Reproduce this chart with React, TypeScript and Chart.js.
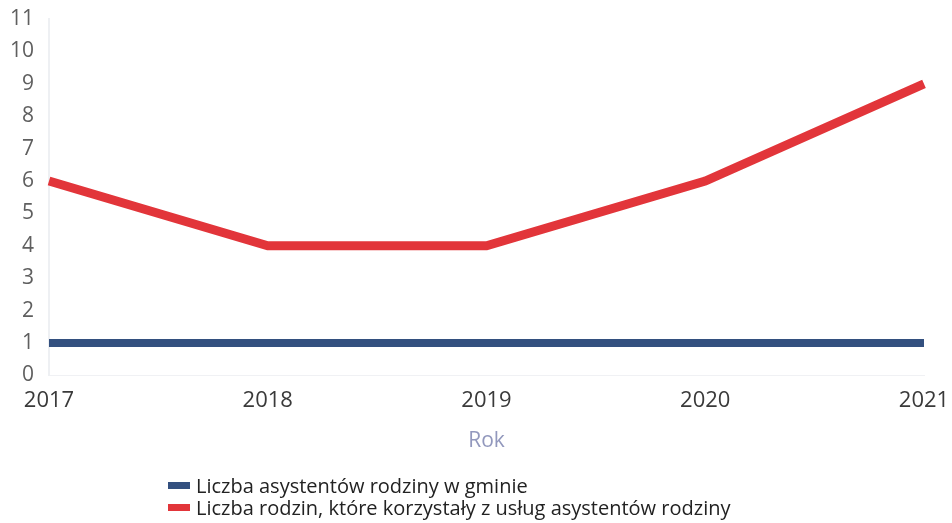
import React, { useEffect, useRef } from "react";
import { Chart, registerables } from "chart.js";

Chart.register(...registerables);

const years = ["2017", "2018", "2019", "2020", "2021"];
const assistants = [1, 1, 1, 1, 1];
const families = [6, 4, 4, 6, 9];
const yTicks = [0, 1, 2, 3, 4, 5, 6, 7, 8, 9, 10, 11];

const seriesNames = [
  "Liczba asystentów rodziny w gminie",
  "Liczba rodzin, które korzystały z usług asystentów rodziny",
];
const BLUE = "#33507f";
const RED = "#e2353a";
const FONT = "'Open Sans', 'Noto Sans', sans-serif";

const legendPlugin = {
  id: "stackedLegend",
  afterDraw(chart: any) {
    const ctx = chart.ctx;
    const items = chart.data.datasets;
    ctx.save();
    ctx.font = `20px ${FONT}`;
    ctx.textBaseline = "alphabetic";
    items.forEach((ds: any, i: number) => {
      const baseline = 493 + i * 22;
      ctx.fillStyle = ds.borderColor;
      ctx.fillRect(168, baseline - 11, 22, 7);
      ctx.fillStyle = "#222";
      ctx.fillText(ds.label, 196, baseline);
    });
    ctx.restore();
  },
};

export default function App() {
  const ref = useRef<HTMLCanvasElement | null>(null);
  useEffect(() => {
    if (!ref.current) return;
    const chart = new Chart(ref.current, {
      type: "line",
      data: {
        labels: years,
        datasets: [
          {
            label: seriesNames[0],
            data: assistants,
            borderColor: BLUE,
            backgroundColor: BLUE,
            borderWidth: 8,
            pointRadius: 0,
            tension: 0,
          },
          {
            label: seriesNames[1],
            data: families,
            borderColor: RED,
            backgroundColor: RED,
            borderWidth: 9,
            pointRadius: 0,
            tension: 0,
          },
        ],
      },
      options: {
        animation: false,
        responsive: false,
        layout: { padding: { left: 0, right: 28, top: 19, bottom: 69 } },
        plugins: {
          legend: { display: false },
          tooltip: { enabled: false },
        },
        scales: {
          x: {
            offset: false,
            afterFit: (axis: any) => {
              axis.paddingLeft = 0;
              axis.paddingRight = 0;
            },
            grid: { display: false, drawTicks: false },
            border: { display: true, color: "#f0f1f4" },
            ticks: {
              color: "#3a3a3a",
              font: { family: FONT, size: 22 },
              padding: 12,
              maxRotation: 0,
            },
            title: {
              display: true,
              text: "Rok",
              color: "#9298bd",
              font: { family: FONT, size: 21 },
              padding: { top: 3, bottom: 0 },
            },
          },
          y: {
            min: 0,
            max: 11,
            afterBuildTicks: (axis: any) => {
              axis.ticks = yTicks.map((v) => ({ value: v }));
            },
            afterFit: (axis: any) => {
              axis.width = 49;
              axis.paddingTop = 0;
              axis.paddingBottom = 0;
            },
            grid: { display: false, drawTicks: false },
            border: { display: true, color: "#eef0f3", width: 2 },
            ticks: {
              color: "#5f5f5f",
              font: { family: FONT, size: 21 },
              padding: 15,
            },
          },
        },
      },
      plugins: [legendPlugin],
    });
    return () => chart.destroy();
  }, []);
  return (
    <div style={{ position: "fixed", left: 0, top: 0, width: 952, height: 523, background: "#fff" }}>
      <canvas ref={ref} width={952} height={523} style={{ width: 952, height: 523 }} />
    </div>
  );
}
